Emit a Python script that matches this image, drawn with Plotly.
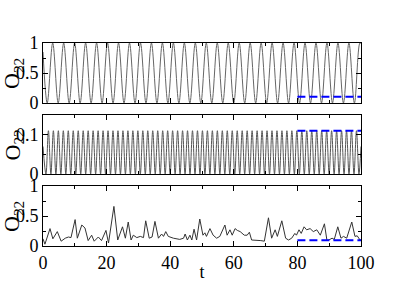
import plotly.graph_objects as go

# ---- Panel 1: slow full oscillation (extrema) ----
p1_peak_t = [3.05, 6.5, 9.95, 13.4, 16.85, 20.3, 23.75, 27.2, 30.65, 34.1, 37.55, 41.0,
             44.45, 47.9, 51.35, 54.8, 58.25, 61.7, 65.15, 68.6, 72.05, 75.5, 78.95,
             82.4, 85.85, 89.3, 92.75, 96.2, 99.65]
p1_trough_t = [1.33, 4.78, 8.23, 11.68, 15.13, 18.58, 22.03, 25.48, 28.93, 32.38, 35.83,
               39.28, 42.73, 46.18, 49.63, 53.08, 56.53, 59.98, 63.43, 66.88, 70.33,
               73.78, 77.23, 80.68, 84.13, 87.58, 91.03, 94.48, 97.93]
p1_peak_v = 1.0
p1_trough_v = 0.0
p1_start = (0.0, 0.85)
p1_end = (100.0, 0.99)

# ---- Panel 2: fast small oscillation ----
p2_peak_t = [1.70, 3.26, 4.83, 6.39, 7.95, 9.51, 11.08, 12.64, 14.20, 15.76, 17.33, 18.89,
             20.45, 22.01, 23.58, 25.14, 26.70, 28.26, 29.83, 31.39, 32.95, 34.51, 36.08,
             37.64, 39.20, 40.76, 42.33, 43.89, 45.45, 47.01, 48.58, 50.14, 51.70, 53.26,
             54.83, 56.39, 57.95, 59.51, 61.08, 62.64, 64.20, 65.76, 67.33, 68.89, 70.45,
             72.01, 73.58, 75.14, 76.70, 78.26, 79.83, 81.39, 82.95, 84.51, 86.08, 87.64,
             89.20, 90.76, 92.33, 93.89, 95.45, 97.01, 98.58]
p2_trough_t = [0.92, 2.48, 4.05, 5.61, 7.17, 8.73, 10.30, 11.86, 13.42, 14.98, 16.55, 18.11,
               19.67, 21.23, 22.80, 24.36, 25.92, 27.48, 29.05, 30.61, 32.17, 33.73, 35.30,
               36.86, 38.42, 39.98, 41.55, 43.11, 44.67, 46.23, 47.80, 49.36, 50.92, 52.48,
               54.05, 55.61, 57.17, 58.73, 60.30, 61.86, 63.42, 64.98, 66.55, 68.11, 69.67,
               71.23, 72.80, 74.36, 75.92, 77.48, 79.05, 80.61, 82.17, 83.73, 85.30, 86.86,
               88.42, 89.98, 91.55, 93.11, 94.67, 96.23, 97.80, 99.36]
p2_peak_v = 0.11
p2_trough_v = 0.0
p2_start = (0.0, 0.07)
p2_end = (100.0, 0.07)

# ---- Panel 3: irregular signal ----
t3 = [0, 0.6, 2.2, 3.1, 4.5, 5.7, 7.0, 8.0, 8.8, 10.1, 10.8, 12.2, 13.2, 14.2, 15.3, 16.1,
      17.4, 18.4, 19.8, 20.6, 22.3, 23.5, 25.0, 25.9, 26.8, 27.7, 28.4, 29.5, 30.6, 31.6,
      32.3, 33.4, 34.3, 35.2, 36.3, 37.3, 37.9, 38.6, 39.4, 41.0, 43.0, 44.2, 44.7, 45.4,
      46.2, 46.8, 47.5, 48.3, 49.3, 50.3, 50.9, 51.4, 52.5, 53.5, 54.6, 55.6, 57.2, 57.9,
      58.8, 59.5, 60.4, 61.1, 62.0, 63.3, 64.2, 64.9, 65.6, 67.0, 68.5, 69.6, 70.9, 71.9,
      73.0, 73.7, 75.1, 76.3, 77.2, 78.2, 79.2, 79.7, 80.5, 81.2, 82.1, 82.9, 84.0, 85.0,
      86.1, 87.2, 88.5, 89.3, 89.9, 90.9, 91.6, 92.7, 93.7, 94.5, 95.5, 97.1, 98.1, 98.8,
      99.7, 100]
v3 = [0.12, 0.03, 0.29, 0.12, 0.24, 0.08, 0.13, 0.15, 0.14, 0.44, 0.13, 0.35, 0.30, 0.09,
      0.18, 0.08, 0.15, 0.09, 0.26, 0.05, 0.66, 0.10, 0.32, 0.13, 0.40, 0.10, 0.18, 0.14,
      0.16, 0.14, 0.42, 0.13, 0.15, 0.41, 0.13, 0.20, 0.16, 0.24, 0.16, 0.13, 0.11, 0.13,
      0.20, 0.10, 0.18, 0.10, 0.28, 0.10, 0.45, 0.18, 0.22, 0.16, 0.29, 0.18, 0.13, 0.16,
      0.35, 0.18, 0.27, 0.18, 0.29, 0.26, 0.24, 0.18, 0.18, 0.23, 0.10, 0.10, 0.09, 0.08,
      0.47, 0.13, 0.27, 0.16, 0.42, 0.13, 0.10, 0.13, 0.21, 0.18, 0.27, 0.21, 0.32, 0.27,
      0.29, 0.24, 0.27, 0.18, 0.37, 0.09, 0.10, 0.13, 0.11, 0.32, 0.13, 0.16, 0.13, 0.40,
      0.16, 0.17, 0.10, 0.10]

# ---- Blue dashed reference levels (t from 80 to 100) ----
blue_t = [80, 100]
blue_levels = [0.105, 0.11, 0.095]

y_ranges = [[0, 1], [0, 0.15], [0, 1]]
y_dticks = [0.5, 0.1, 0.5]
y_minor = [0.25, 0.05, 0.25]
y_title = "O<sub>22</sub>"


def merge(peaks, troughs, pv, tv, start, end):
    pts = [start] + [(t, pv) for t in peaks] + [(t, tv) for t in troughs] + [end]
    pts.sort()
    return [p[0] for p in pts], [p[1] for p in pts]


t1, v1 = merge(p1_peak_t, p1_trough_t, p1_peak_v, p1_trough_v, p1_start, p1_end)
t2, v2 = merge(p2_peak_t, p2_trough_t, p2_peak_v, p2_trough_v, p2_start, p2_end)

fig = go.Figure()
fig.add_trace(go.Scatter(x=t1, y=v1, mode="lines", line=dict(color="#666666", width=1, shape="spline"),
                         xaxis="x", yaxis="y"))
fig.add_trace(go.Scatter(x=t2, y=v2, mode="lines", line=dict(color="#555555", width=1, shape="spline"),
                         xaxis="x2", yaxis="y2"))
fig.add_trace(go.Scatter(x=t3, y=v3, mode="lines", line=dict(color="#333333", width=1),
                         xaxis="x3", yaxis="y3"))
for i, lvl in enumerate(blue_levels):
    sfx = "" if i == 0 else str(i + 1)
    fig.add_trace(go.Scatter(x=blue_t, y=[lvl, lvl], mode="lines",
                             line=dict(color="#0000ff", width=2, dash="8px,4px"),
                             xaxis="x" + sfx, yaxis="y" + sfx))

W, H = 399, 282
ml, mr, mt, mb = 43, 38, 43, 36
pw = W - ml - mr
ph = H - mt - mb
def frac(py):
    return (H - mb - py) / ph

domains = [[frac(103), 1.0], [frac(174), frac(115)], [0.0, frac(186)]]
FAM = "Liberation Serif, Times New Roman, Times, serif"
font = dict(family=FAM, size=18, color="black")

annotations = []
for d in domains:
    annotations.append(dict(
        text=y_title, textangle=-90, xref="paper", yref="paper",
        x=(13 - ml) / pw, y=(d[0] + d[1]) / 2, xanchor="center", yanchor="middle",
        showarrow=False, font=dict(family=FAM, size=22, color="black"),
    ))

layout = dict(
    width=W, height=H, margin=dict(l=ml, r=mr, t=mt, b=mb, autoexpand=False),
    plot_bgcolor="white", paper_bgcolor="white", showlegend=False,
    font=font, annotations=annotations,
)
for i in range(3):
    sfx = "" if i == 0 else str(i + 1)
    layout["xaxis" + sfx] = dict(
        range=[0, 100], dtick=20, ticks="inside", ticklen=5, tickcolor="black",
        minor=dict(dtick=10, ticks="inside", ticklen=3, tickcolor="black"),
        showline=True, linecolor="black", linewidth=1, mirror="ticks",
        showgrid=False, zeroline=False, anchor="y" + sfx, automargin=False,
        showticklabels=(i == 2), tickfont=font,
        title=dict(text="t" if i == 2 else "", standoff=0, font=font),
    )
    layout["yaxis" + sfx] = dict(
        range=y_ranges[i], dtick=y_dticks[i], ticks="inside", ticklen=5, tickcolor="black",
        minor=dict(dtick=y_minor[i], ticks="inside", ticklen=3, tickcolor="black"),
        showline=True, linecolor="black", linewidth=1, mirror="ticks",
        showgrid=False, zeroline=False, domain=domains[i], anchor="x" + sfx,
        tickfont=font, ticklabelstandoff=0, automargin=False,
    )
fig.update_layout(**layout)
fig.write_html("out.html", post_script="document.body.style.margin='0px';",
               config={"displayModeBar": False})
